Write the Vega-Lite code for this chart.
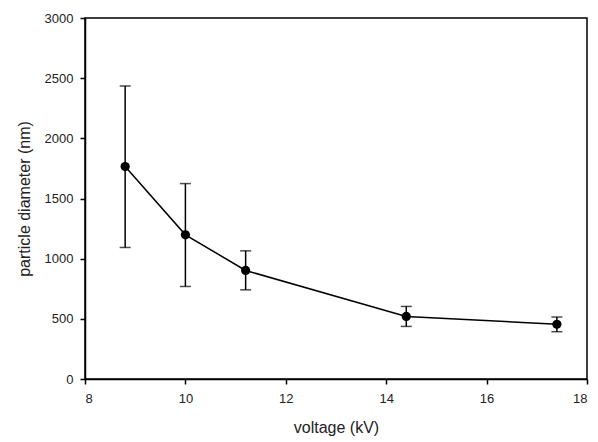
{
  "$schema": "https://vega.github.io/schema/vega-lite/v6.json",
  "width": 502,
  "height": 361,
  "autosize": {"type": "none"},
  "padding": {"left": 85, "top": 18, "right": 11, "bottom": 63},
  "background": "white",
  "config": {
    "view": {"stroke": "black", "strokeWidth": 1.5},
    "axis": {
      "grid": false,
      "domainColor": "black",
      "domainWidth": 1.5,
      "tickColor": "black",
      "tickWidth": 1.5,
      "tickSize": 5,
      "labelFont": "Liberation Sans",
      "labelFontSize": 13,
      "labelColor": "#222",
      "titleFont": "Liberation Sans",
      "titleFontSize": 16,
      "titleFontWeight": "normal",
      "titleColor": "#222",
      "format": "d"
    }
  },
  "data": {
    "values": [
      {"v": 8.8, "d": 1765, "lo": 1093, "hi": 2435},
      {"v": 10.0, "d": 1198, "lo": 769, "hi": 1624},
      {"v": 11.2, "d": 902, "lo": 741, "hi": 1065},
      {"v": 14.4, "d": 520, "lo": 437, "hi": 603},
      {"v": 17.4, "d": 455, "lo": 393, "hi": 515}
    ]
  },
  "encoding": {
    "x": {
      "field": "v",
      "type": "quantitative",
      "scale": {"domain": [8, 18], "nice": false, "zero": false},
      "axis": {"values": [8, 10, 12, 14, 16, 18], "title": "voltage (kV)", "titlePadding": 14, "labelPadding": 8}
    }
  },
  "layer": [
    {
      "mark": {"type": "rule", "color": "black", "strokeWidth": 1.5},
      "encoding": {
        "y": {"field": "lo", "type": "quantitative", "scale": {"domain": [0, 3000], "nice": false},
          "axis": {"values": [0, 500, 1000, 1500, 2000, 2500, 3000], "title": "particle diameter (nm)", "titlePadding": 12, "labelPadding": 7}},
        "y2": {"field": "hi"}
      }
    },
    {
      "mark": {"type": "tick", "color": "black", "size": 11, "thickness": 1.5, "orient": "horizontal"},
      "encoding": {"y": {"field": "lo", "type": "quantitative"}}
    },
    {
      "mark": {"type": "tick", "color": "black", "size": 11, "thickness": 1.5, "orient": "horizontal"},
      "encoding": {"y": {"field": "hi", "type": "quantitative"}}
    },
    {
      "mark": {"type": "line", "color": "black", "strokeWidth": 1.5},
      "encoding": {"y": {"field": "d", "type": "quantitative"}}
    },
    {
      "mark": {"type": "point", "filled": true, "color": "black", "size": 85, "opacity": 1},
      "encoding": {"y": {"field": "d", "type": "quantitative"}}
    }
  ]
}
